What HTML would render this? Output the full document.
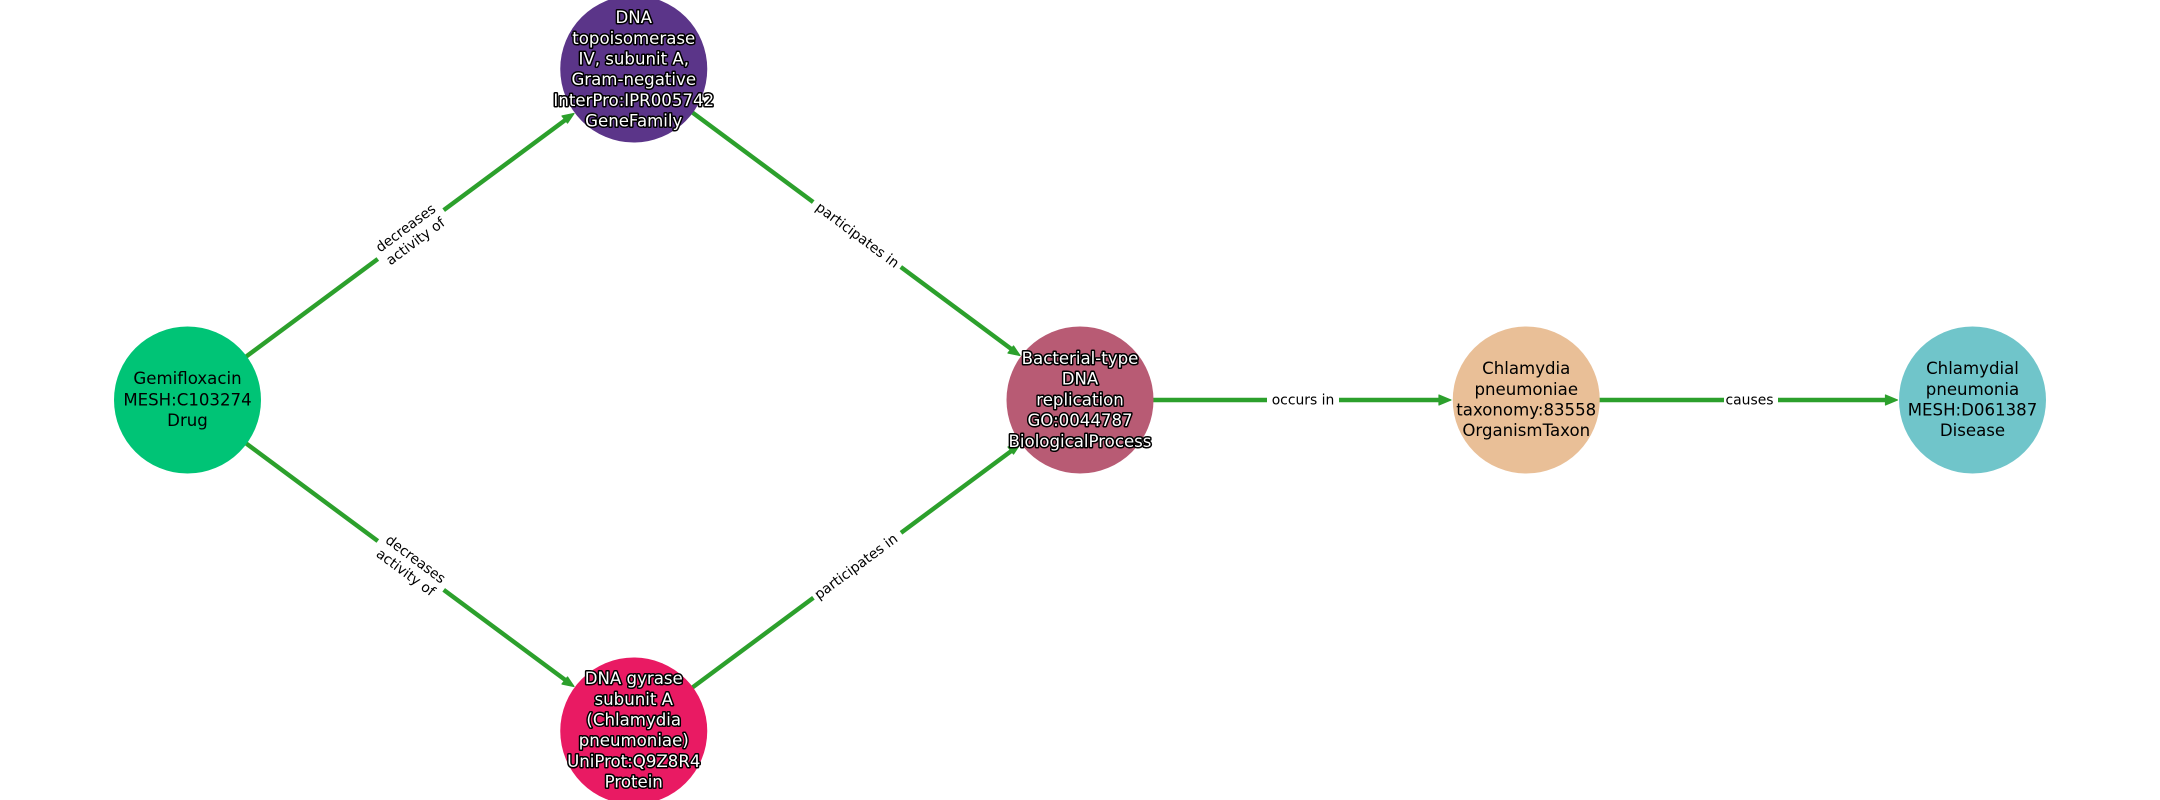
<!DOCTYPE html>
<html>
<head>
<meta charset="utf-8">
<style>
html,body{margin:0;padding:0;background:#fff;width:2160px;height:800px;overflow:hidden}
svg{display:block}
text{font-family:"DejaVu Sans",sans-serif;text-anchor:middle}
.n{font-size:16.6px;fill:#000}
.h{font-size:16.6px;fill:#fff;stroke:#000;stroke-width:3px;paint-order:stroke;stroke-linejoin:round}
.e{font-size:13.9px;fill:#000}
</style>
</head>
<body>
<svg width="2160" height="800" viewBox="0 0 2160 800" xmlns="http://www.w3.org/2000/svg">
<rect width="2160" height="800" fill="#fff"/>
<g stroke="#2ca02c" stroke-width="4.4" fill="none">
<line x1="187.5" y1="400" x2="568" y2="118"/>
<line x1="633.75" y1="69" x2="1014" y2="351"/>
<line x1="187.5" y1="400" x2="568" y2="682"/>
<line x1="633.75" y1="731" x2="1014" y2="449"/>
<line x1="1080" y1="400" x2="1444" y2="400"/>
<line x1="1526.25" y1="400" x2="1890" y2="400"/>
</g>
<g fill="#2ca02c" stroke="#2ca02c" stroke-width="1.2" stroke-linejoin="round">
<polygon points="574,113.5 562,116 567.5,123"/>
<polygon points="1020,355.5 1008,353 1013.5,346"/>
<polygon points="574,686.5 562,684 567.5,677"/>
<polygon points="1020,444.5 1008,447 1013.5,454"/>
<polygon points="1451,400 1439,395 1439,405"/>
<polygon points="1897.5,400 1885.5,395 1885.5,405"/>
</g>
<g fill="#fff">
<rect x="-41" y="-24" width="82" height="48" transform="translate(410.7 234.5) rotate(-36.6)"/>
<rect x="-54.5" y="-12" width="109" height="24" transform="translate(857 234.5) rotate(36.6)"/>
<rect x="-41" y="-24" width="82" height="48" transform="translate(410.7 565.5) rotate(36.6)"/>
<rect x="-54.5" y="-12" width="109" height="24" transform="translate(857 565) rotate(-36.6)"/>
<rect x="1267" y="388" width="72" height="24"/>
<rect x="1724" y="388" width="54" height="24"/>
</g>
<g class="e">
<text class="e" transform="translate(410.2 234.2) rotate(-36.6)"><tspan x="0" y="-3">decreases</tspan><tspan x="0" y="13.5">activity of</tspan></text>
<text class="e" transform="translate(857.7 234.8) rotate(36.6)" y="5">participates in</text>
<text class="e" transform="translate(411 565.3) rotate(36.6)"><tspan x="0" y="-3">decreases</tspan><tspan x="0" y="13.5">activity of</tspan></text>
<text class="e" transform="translate(855.8 566.2) rotate(-36.6)" y="5">participates in</text>
<text class="e" x="1303" y="404.5">occurs in</text>
<text class="e" x="1749.5" y="404.5">causes</text>
</g>
<circle cx="187.5" cy="400" r="73.5" fill="#00c476"/>
<circle cx="633.75" cy="69" r="73.5" fill="#5b3589"/>
<circle cx="1080" cy="400" r="73.5" fill="#b85b74"/>
<circle cx="633.75" cy="731" r="73.5" fill="#e91a63"/>
<circle cx="1526.25" cy="400" r="73.5" fill="#e9bf97"/>
<circle cx="1972.5" cy="400" r="73.5" fill="#70c5ca"/>
<text class="n" x="187.5" y="384">Gemifloxacin</text>
<text class="n" x="187.5" y="405.5">MESH:C103274</text>
<text class="n" x="187.5" y="426">Drug</text>
<text class="h" x="633.75" y="23">DNA</text>
<text class="h" x="633.75" y="44">topoisomerase</text>
<text class="h" x="633.75" y="64.5">IV, subunit A,</text>
<text class="h" x="633.75" y="85">Gram-negative</text>
<text class="h" x="633.75" y="106">InterPro:IPR005742</text>
<text class="h" x="633.75" y="126.5">GeneFamily</text>
<text class="h" x="1080" y="364">Bacterial-type</text>
<text class="h" x="1080" y="384.5">DNA</text>
<text class="h" x="1080" y="405.5">replication</text>
<text class="h" x="1080" y="426">GO:0044787</text>
<text class="h" x="1080" y="447">BiologicalProcess</text>
<text class="h" x="633.75" y="684">DNA gyrase</text>
<text class="h" x="633.75" y="705">subunit A</text>
<text class="h" x="633.75" y="725.5">(Chlamydia</text>
<text class="h" x="633.75" y="746">pneumoniae)</text>
<text class="h" x="633.75" y="767">UniProt:Q9Z8R4</text>
<text class="h" x="633.75" y="787.5">Protein</text>
<text class="n" x="1526.25" y="374">Chlamydia</text>
<text class="n" x="1526.25" y="395">pneumoniae</text>
<text class="n" x="1526.25" y="415.5">taxonomy:83558</text>
<text class="n" x="1526.25" y="436">OrganismTaxon</text>
<text class="n" x="1972.5" y="374">Chlamydial</text>
<text class="n" x="1972.5" y="395">pneumonia</text>
<text class="n" x="1972.5" y="415.5">MESH:D061387</text>
<text class="n" x="1972.5" y="436">Disease</text>
</svg>
</body>
</html>
